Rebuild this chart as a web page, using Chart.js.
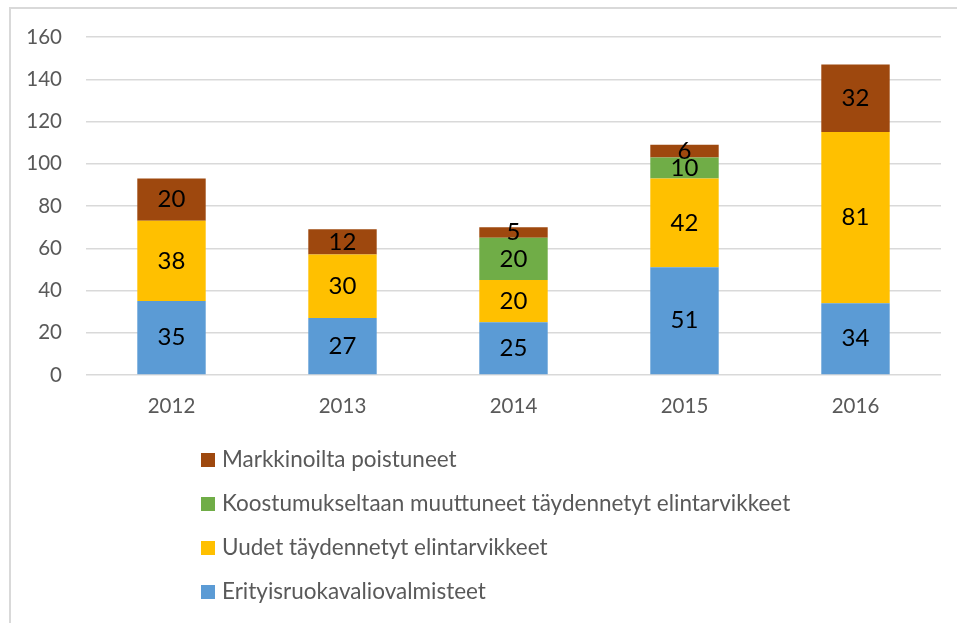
<!DOCTYPE html>
<html>
<head>
<meta charset="utf-8">
<script src="https://cdn.jsdelivr.net/npm/chart.js@4/dist/chart.umd.min.js"></script>
<style>
html,body{margin:0;padding:0;background:#fff;}
#wrap{position:relative;width:957px;height:623px;}
</style>
</head>
<body>
<div id="wrap"><canvas id="c" width="957" height="623"></canvas></div>
<script>
const categories = ['2012', '2013', '2014', '2015', '2016'];
const seriesNames = [
  'Erityisruokavaliovalmisteet',
  'Uudet täydennetyt elintarvikkeet',
  'Koostumukseltaan muuttuneet täydennetyt elintarvikkeet',
  'Markkinoilta poistuneet'
];
const erityis = [35, 27, 25, 51, 34];
const uudet = [38, 30, 20, 42, 81];
const koostumus = [0, 0, 20, 10, 0];
const poistuneet = [20, 12, 5, 6, 32];
const yTicks = [0, 20, 40, 60, 80, 100, 120, 140, 160];
const colors = ['#5B9BD5', '#FFC000', '#70AD47', '#9E480E'];

const FONT = 'Lato, "Open Sans", sans-serif';

const frame = {
  id: 'frame',
  beforeDraw(chart) {
    const ctx = chart.ctx;
    ctx.save();
    ctx.strokeStyle = '#d9d9d9';
    ctx.lineWidth = 2;
    ctx.beginPath();
    ctx.moveTo(10, 623);
    ctx.lineTo(10, 8);
    ctx.lineTo(957, 8);
    ctx.stroke();
    ctx.restore();
  }
};

const valueLabels = {
  id: 'valueLabels',
  afterDatasetsDraw(chart) {
    const ctx = chart.ctx;
    ctx.save();
    ctx.font = '24px ' + FONT;
    ctx.fillStyle = '#000';
    ctx.textAlign = 'center';
    ctx.textBaseline = 'middle';
    chart.data.datasets.forEach((ds, i) => {
      const meta = chart.getDatasetMeta(i);
      meta.data.forEach((bar, j) => {
        const v = ds.data[j];
        if (!v) return;
        const y = (bar.y + bar.base) / 2;
        ctx.fillText(String(v), bar.x, y);
      });
    });
    ctx.restore();
  }
};

const vLegend = {
  id: 'vLegend',
  afterDraw(chart) {
    const ctx = chart.ctx;
    ctx.save();
    ctx.font = '22.5px ' + FONT;
    ctx.textBaseline = 'middle';
    ctx.textAlign = 'left';
    const n = chart.data.datasets.length;
    for (let k = 0; k < n; k++) {
      const i = n - 1 - k;
      const ds = chart.data.datasets[i];
      const y = 460 + k * 44;
      ctx.fillStyle = ds.backgroundColor;
      ctx.fillRect(201, y - 7, 14, 14);
      ctx.fillStyle = '#595959';
      ctx.fillText(ds.label, 222, y);
    }
    ctx.restore();
  }
};

const datasets = [erityis, uudet, koostumus, poistuneet].map((d, i) => ({
  label: seriesNames[i],
  data: d,
  backgroundColor: colors[i],
  borderWidth: 0,
  barPercentage: 0.4,
  categoryPercentage: 1.0
}));

new Chart(document.getElementById('c'), {
  type: 'bar',
  data: { labels: categories, datasets },
  options: {
    responsive: false,
    animation: false,
    devicePixelRatio: 1,
    layout: { padding: { left: 0, top: 37, right: 16, bottom: 203 } },
    plugins: { legend: { display: false }, tooltip: { enabled: false } },
    scales: {
      x: {
        stacked: true,
        grid: { display: false, drawTicks: false },
        border: { display: false },
        ticks: { color: '#595959', font: { family: FONT, size: 20.5 }, padding: 19 },
        afterFit(s) { s.height = 45; }
      },
      y: {
        stacked: true,
        min: 0,
        max: 160,
        afterBuildTicks(s) { s.ticks = yTicks.map(v => ({ value: v })); },
        grid: { color: '#d9d9d9', lineWidth: 1.5, drawTicks: false },
        border: { display: false },
        ticks: { color: '#595959', font: { family: FONT, size: 20.5 }, padding: 24 },
        afterFit(s) { s.width = 86; }
      }
    }
  },
  plugins: [frame, valueLabels, vLegend]
});
</script>
</body>
</html>
